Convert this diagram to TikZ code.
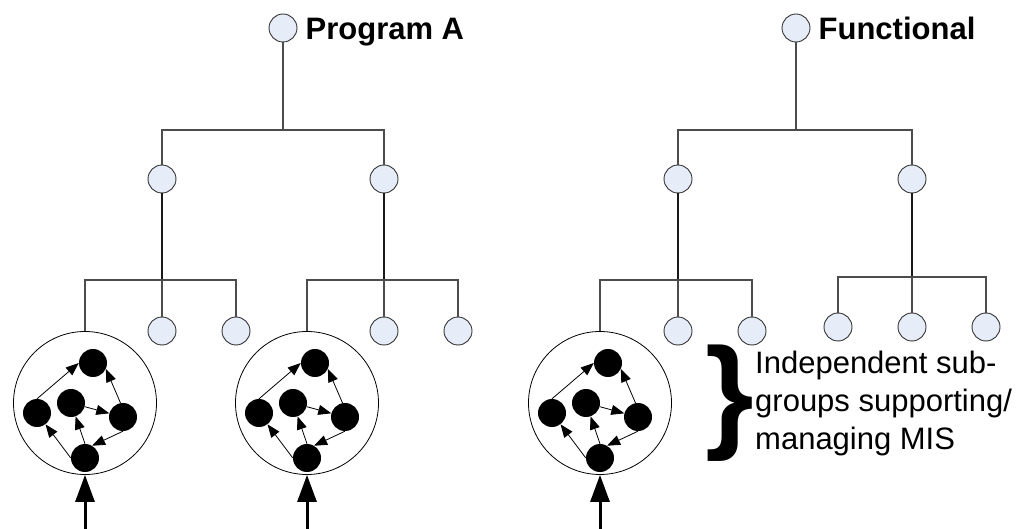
\documentclass[tikz,border=0pt]{standalone}
\usepackage{fontspec}
\setmainfont{Liberation Sans}
\usetikzlibrary{arrows.meta,positioning}
\definecolor{unitblue}{HTML}{E6EDF8}
\begin{document}
\begin{tikzpicture}[x=1pt,y=-1pt,
    unit/.style={circle, draw=black!80, fill=unitblue, line width=0.9pt, minimum size=28pt, inner sep=0pt},
    cluster/.style={circle, draw, line width=0.8pt, minimum size=143pt, inner sep=0pt},
    dot/.style={circle, fill=black, minimum size=28pt, inner sep=0pt},
    flow/.style={-{Triangle[length=13pt,width=10pt]}, line width=0.8pt},
    input/.style={-{Triangle[length=27pt,width=19pt]}, line width=3pt},
    branch/.style={draw=black!70, line width=1.2pt},
    stem/.style={draw=black!90, line width=2pt},
    title/.style={font=\bfseries\fontsize{31}{36}\selectfont, inner sep=0pt, anchor=base west},
  ]
\useasboundingbox (0,0) rectangle (1021,529);

% tree heads
\node[unit] (PA) at (283,28) {};
\node[title] (PAlabel) at ([xshift=8pt,yshift=-12pt]PA.east) {Program A};
\node[unit] (FN) at (796,28) {};
\node[title] (FNlabel) at ([xshift=8pt,yshift=-12pt]FN.east) {Functional};

% middle level
\node[unit] (M1) at (162,179) {};
\node[unit] (M2) at (384,179) {};
\node[unit] (M3) at (678,179) {};
\node[unit] (M4) at (912,179) {};

% leaves
\node[unit] (L1) at (162,331) {};
\node[unit] (L2) at (236,331) {};
\node[unit] (L3) at (384,331) {};
\node[unit] (L4) at (458,331) {};
\node[unit] (L5) at (678,331) {};
\node[unit] (L6) at (752,331) {};
\node[unit] (L7) at (838,327) {};
\node[unit] (L8) at (912,327) {};
\node[unit] (L9) at (986,327) {};

% clusters of tasks
\foreach \i/\cx in {1/85, 2/307, 3/600}
  {
  \node[cluster] (C\i) at (\cx,403) {};
  \node[dot] (C\i top) at (\cx+8,363) {};
  \node[dot] (C\i left) at (\cx-48,413) {};
  \node[dot] (C\i mid) at (\cx-14,403) {};
  \node[dot] (C\i right) at (\cx+38,417) {};
  \node[dot] (C\i bot) at (\cx,458) {};
  \draw[flow] (C\i left.north) -- (C\i top.west);
  \draw[flow] (C\i right.100) -- (C\i top.-25);
  \draw[flow] (C\i mid) -- (C\i right);
  \draw[flow] (C\i bot.west) -- (C\i left);
  \draw[flow] (C\i bot.north) -- (C\i mid);
  \draw[flow] (C\i right.south) -- (C\i bot.60);
  \coordinate (in\i) at (\cx,529);
  \draw[input] (in\i) -- (C\i.south);
  }

% branches
\coordinate (bA) at (PA |- 0,130);
\coordinate (bF) at (FN |- 0,130);
\coordinate (b1) at (M1 |- 0,280);
\coordinate (b2) at (M2 |- 0,280);
\coordinate (b3) at (M3 |- 0,280);
\coordinate (b4) at (M4 |- 0,277);

\draw[branch] (PA.south) -- (bA);
\draw[branch] (M1.north) |- (bA) -| (M2.north);
\draw[branch] (FN.south) -- (bF);
\draw[branch] (M3.north) |- (bF) -| (M4.north);

\draw[stem] (M1.south) -- (b1);
\draw[stem] (M2.south) -- (b2);
\draw[stem] (M3.south) -- (b3);
\draw[stem] (M4.south) -- (b4);

\draw[branch] (C1.north) |- (b1) -| (L2.north);
\draw[branch] (b1) -- (L1.north);
\draw[branch] (C2.north) |- (b2) -| (L4.north);
\draw[branch] (b2) -- (L3.north);
\draw[branch] (C3.north) |- (b3) -| (L6.north);
\draw[branch] (b3) -- (L5.north);
\draw[branch] (L7.north) |- (b4) -| (L9.north);
\draw[branch] (b4) -- (L8.north);

% note
\node[font=\bfseries\fontsize{125}{125}\selectfont, inner sep=0pt, anchor=base west] (brace) at (705,436) {\}};
\node[font=\fontsize{31}{38}\selectfont, align=left, anchor=north west, inner sep=0pt] (note) at (755,351) {Independent sub-\\groups supporting/\\managing MIS};
\end{tikzpicture}
\end{document}
